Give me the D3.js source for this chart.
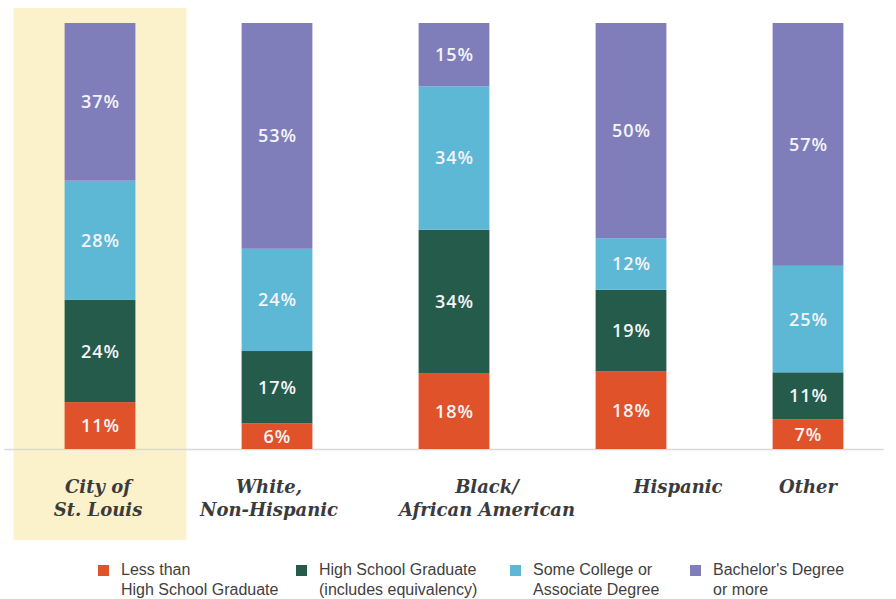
<!DOCTYPE html>
<html>
<head>
<meta charset="utf-8">
<script src="https://cdn.jsdelivr.net/npm/d3@7/dist/d3.min.js"></script>
<style>
  html, body { margin: 0; padding: 0; background: #ffffff; }
  svg { display: block; }
</style>
</head>
<body>
<svg id="chart" width="896" height="599"></svg>
<script>
// Educational attainment by race / ethnicity, City of St. Louis
const groups = ["City of St. Louis", "White, Non-Hispanic", "Black/ African American", "Hispanic", "Other"];
const groupLines = [["City of", "St. Louis"], ["White,", "Non-Hispanic"], ["Black/", "African American"], ["Hispanic"], ["Other"]];
const levels = ["lessHS", "hsGrad", "someCollege", "bachelors"];
const levelNames = [
  ["Less than", "High School Graduate"],
  ["High School Graduate", "(includes equivalency)"],
  ["Some College or", "Associate Degree"],
  ["Bachelor's Degree", "or more"]
];
const lessHS      = [11, 6, 18, 18, 7];
const hsGrad      = [24, 17, 34, 19, 11];
const someCollege = [28, 24, 34, 12, 25];
const bachelors   = [37, 53, 15, 50, 57];

const colors = ["#e0522a", "#245b4b", "#5cb8d5", "#7f7eba"];
const labelShift = [-2, -8, 33, 47, 0];

const rows = groups.map((g, i) => ({
  group: g,
  lessHS: lessHS[i],
  hsGrad: hsGrad[i],
  someCollege: someCollege[i],
  bachelors: bachelors[i]
}));

const svg = d3.select("#chart");

const x = d3.scaleBand()
  .domain(groups)
  .range([11.5, 896.5])
  .paddingInner(0.6)
  .paddingOuter(0.3);

const y = d3.scaleLinear().domain([0, 1]).range([449, 23]);

// each column is shown as shares of its own total
const stacked = d3.stack().keys(levels).offset(d3.stackOffsetExpand)(rows);

// highlight panel behind the citywide column
svg.append("rect")
  .attr("x", x(groups[0]) - 51)
  .attr("y", 8)
  .attr("width", x.bandwidth() + 102)
  .attr("height", 532)
  .attr("fill", "#fbf2cb");

// baseline
svg.append("line")
  .attr("x1", 4).attr("x2", 884)
  .attr("y1", y(0) + 0.5).attr("y2", y(0) + 0.5)
  .attr("stroke", "#d9d9d9").attr("stroke-width", 1.5);

const layer = svg.append("g").selectAll("g")
  .data(stacked)
  .join("g")
  .attr("fill", (d, i) => colors[i]);

layer.selectAll("rect")
  .data(d => d)
  .join("rect")
  .attr("x", d => x(d.data.group))
  .attr("y", d => y(d[1]))
  .attr("width", x.bandwidth())
  .attr("height", d => y(d[0]) - y(d[1]));

// value labels inside segments
const valLayer = svg.append("g").selectAll("g")
  .data(stacked)
  .join("g");

valLayer.selectAll("text")
  .data(d => d.map(s => ({ s, key: d.key })))
  .join("text")
  .attr("x", d => x(d.s.data.group) + x.bandwidth() / 2 + 0.5)
  .attr("y", d => (y(d.s[0]) + y(d.s[1])) / 2)
  .attr("dy", "0.36em")
  .attr("text-anchor", "middle")
  .attr("fill", "#f4f4f8")
  .attr("font-family", "'Open Sans', sans-serif")
  .attr("font-weight", 600)
  .attr("font-size", 18)
  .attr("letter-spacing", 1)
  .text(d => d.s.data[d.key] + "%");

// category labels
const cat = svg.append("g").selectAll("text")
  .data(groups)
  .join("text")
  .attr("x", (g, i) => x(g) + x.bandwidth() / 2 + labelShift[i])
  .attr("y", 493)
  .attr("text-anchor", "middle")
  .attr("fill", "#3b3b3d")
  .attr("font-family", "'DejaVu Serif', serif")
  .attr("font-style", "italic")
  .attr("font-weight", 700)
  .attr("font-size", 18);

cat.selectAll("tspan")
  .data((g, i) => groupLines[i])
  .join("tspan")
  .attr("x", function() { return d3.select(this.parentNode).attr("x"); })
  .attr("dy", (d, j) => j === 0 ? 0 : 23)
  .text(d => d);

// legend
const legendX = [98, 296, 510, 690];
const legend = svg.append("g").selectAll("g")
  .data(levels)
  .join("g")
  .attr("transform", (d, i) => `translate(${legendX[i]},0)`);

legend.append("rect")
  .attr("x", 0).attr("y", 565)
  .attr("width", 11).attr("height", 11)
  .attr("fill", (d, i) => colors[i]);

legend.append("text")
  .attr("x", 23)
  .attr("y", 575)
  .attr("fill", "#3f3f42")
  .attr("font-family", "'Liberation Sans Narrow', 'Liberation Sans', sans-serif")
  .attr("font-size", 16)
  .selectAll("tspan")
  .data((d, i) => levelNames[i])
  .join("tspan")
  .attr("x", 23)
  .attr("dy", (d, j) => j === 0 ? 0 : 20)
  .text(d => d);
</script>
</body>
</html>
